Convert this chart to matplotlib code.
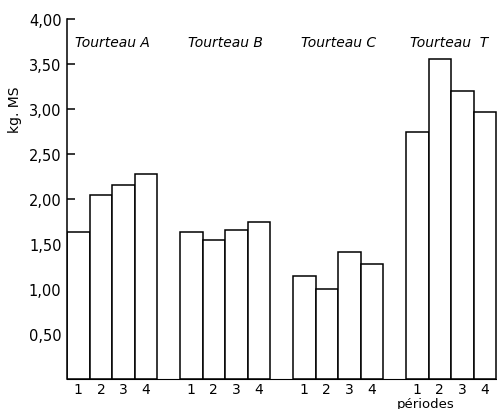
import matplotlib
matplotlib.use("Agg")
import matplotlib.pyplot as plt

groups = ["Tourteau A", "Tourteau B", "Tourteau C", "Tourteau  T"]
periods = ["1", "2", "3", "4"]
valeurs_A = [1.63, 2.05, 2.16, 2.28]
valeurs_B = [1.63, 1.54, 1.66, 1.74]
valeurs_C = [1.14, 1.00, 1.41, 1.28]
valeurs_T = [2.75, 3.56, 3.20, 2.97]
yticks = [0.5, 1.0, 1.5, 2.0, 2.5, 3.0, 3.5, 4.0]
ytick_labels = ["0,50", "1,00", "1,50", "2,00", "2,50", "3,00", "3,50", "4,00"]

series = [valeurs_A, valeurs_B, valeurs_C, valeurs_T]

fig = plt.figure(figsize=(4.97, 4.10), dpi=100)
ax = fig.add_axes([67 / 497, 30 / 410, 430 / 497, 360 / 410])

xt, xl = [], []
for g, vals in enumerate(series):
    x0 = g * 5
    xs = [x0 + i for i in range(len(vals))]
    ax.bar(xs, vals, width=1.0, align="edge", color="white",
           edgecolor="black", linewidth=1.1, zorder=2)
    xt += [x + 0.5 for x in xs]
    xl += periods
    ax.text(x0 + 0.35 - (0.15 if g == 3 else 0), 3.74, groups[g],
            style="italic", fontsize=10, ha="left", va="center")

ax.set_xlim(0, 19.03)
ax.set_ylim(0, 4.0)
ax.set_xticks(xt)
ax.set_xticklabels(xl, fontsize=10)
ax.tick_params(axis="x", length=0, pad=2)
ax.set_yticks(yticks)
ax.set_yticklabels(ytick_labels, fontsize=10.5)
ax.tick_params(axis="y", direction="in", length=5.8, width=1.1, pad=4)

for s in ["top", "right"]:
    ax.spines[s].set_visible(False)
ax.spines["left"].set_linewidth(1.1)
ax.spines["bottom"].set_linewidth(0.8)

ax.set_ylabel("kg. MS", fontsize=10)
ax.yaxis.set_label_coords(-0.105, 0.75)
fig.text(426 / 497, 1 - 405 / 410, "périodes", fontsize=9.5,
         ha="center", va="center")

fig.savefig("out.png", dpi=100)
